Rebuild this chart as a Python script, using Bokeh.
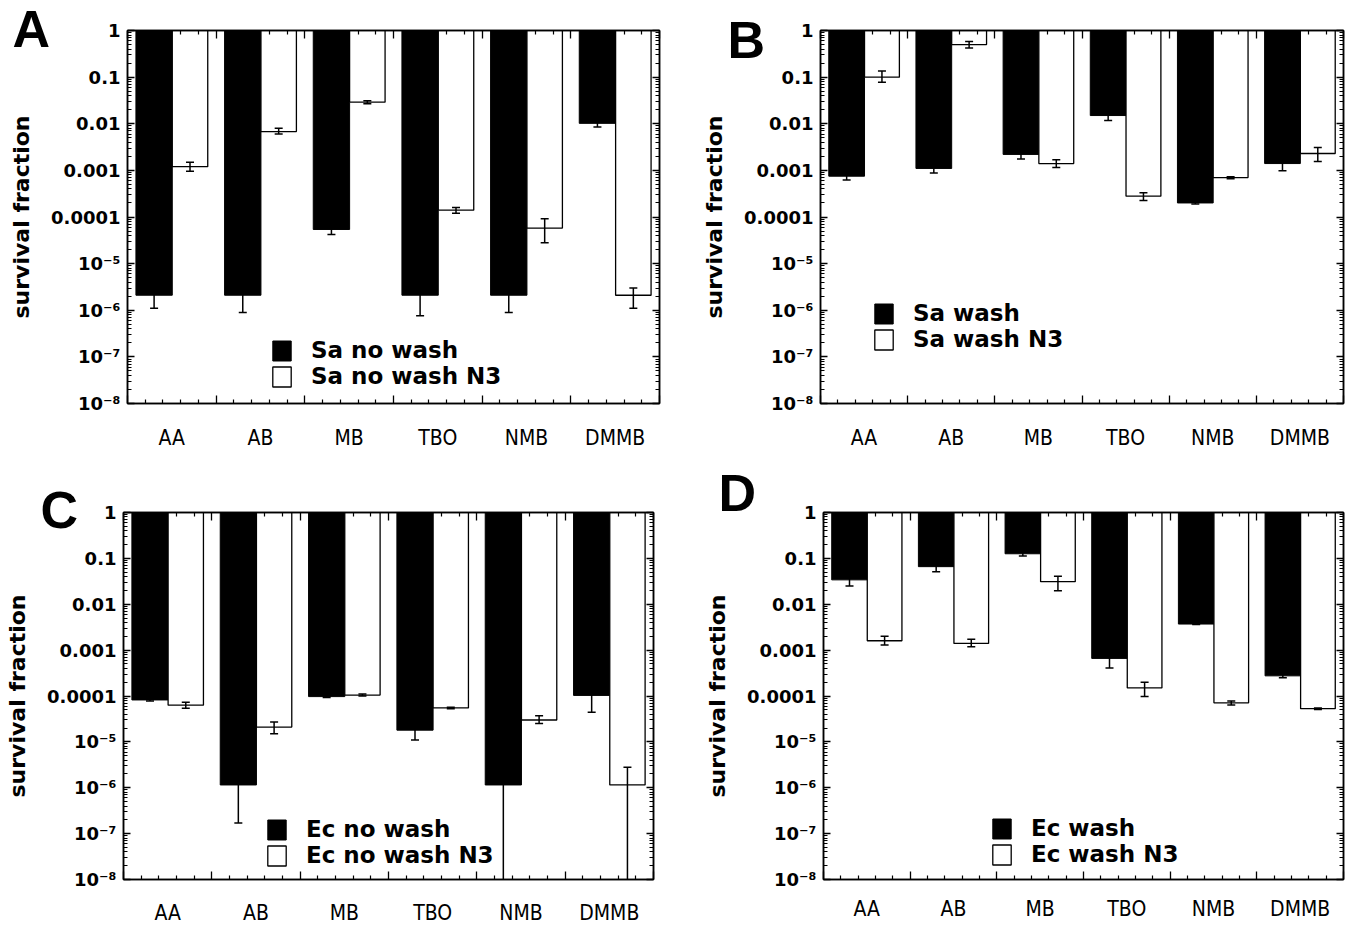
from bokeh.plotting import figure
from bokeh.models import (Range1d, FixedTicker, LinearAxis, LogAxis, Legend, LegendItem,
                          Title, CustomJSTickFormatter)
from bokeh.layouts import column, row
from bokeh.embed import file_html
from bokeh.resources import INLINE

categories = ["AA", "AB", "MB", "TBO", "NMB", "DMMB"]

y_tick_values = [1, 0.1, 0.01, 0.001, 0.0001, 1e-5, 1e-6, 1e-7, 1e-8]
y_tick_labels = ["1", "0.1", "0.01", "0.001", "0.0001", "10\u207b\u2075", "10\u207b\u2076", "10\u207b\u2077", "10\u207b\u2078"]

# Panel A : Sa no wash
a_names = ["Sa no wash", "Sa no wash N3"]
a_black = [2.1e-6, 2.1e-6, 5.4e-5, 2.1e-6, 2.1e-6, 0.0102]
a_black_lo = [1.1e-6, 8.9e-7, 4.2e-5, 7.6e-7, 8.9e-7, 0.0085]
a_black_hi = [3.1e-6, 3.3e-6, 6.6e-5, 3.4e-6, 3.3e-6, 0.0119]
a_white = [0.0012, 0.0068, 0.029, 1.4e-4, 5.8e-5, 2.1e-6]
a_white_lo = [0.00096, 0.0060, 0.027, 1.2e-4, 2.8e-5, 1.1e-6]
a_white_hi = [0.0015, 0.0080, 0.031, 1.6e-4, 9.2e-5, 3.0e-6]

# Panel B : Sa wash
b_names = ["Sa wash", "Sa wash N3"]
b_black = [7.5e-4, 0.0011, 0.0022, 0.015, 2.0e-4, 0.0014]
b_black_lo = [6.2e-4, 8.8e-4, 0.00175, 0.0118, 1.9e-4, 9.8e-4]
b_black_hi = [9.0e-4, 0.0013, 0.0026, 0.018, 2.1e-4, 0.0020]
b_white = [0.10, 0.50, 0.0014, 2.8e-4, 7.0e-4, 0.0023]
b_white_lo = [0.078, 0.42, 0.00115, 2.25e-4, 6.6e-4, 0.00155]
b_white_hi = [0.135, 0.58, 0.0017, 3.3e-4, 7.3e-4, 0.0031]

# Panel C : Ec no wash
c_names = ["Ec no wash", "Ec no wash N3"]
c_black = [8.2e-5, 1.15e-6, 9.7e-5, 1.8e-5, 1.15e-6, 1.03e-4]
c_black_lo = [7.8e-5, 1.7e-7, 9.3e-5, 1.1e-5, 1e-9, 4.4e-5]
c_black_hi = [8.6e-5, 2.0e-6, 1.0e-4, 2.5e-5, 2.0e-6, 1.6e-4]
c_white = [6.3e-5, 2.1e-5, 1.05e-4, 5.5e-5, 3.0e-5, 1.15e-6]
c_white_lo = [5.4e-5, 1.5e-5, 1.0e-4, 5.3e-5, 2.5e-5, 1e-9]
c_white_hi = [7.3e-5, 2.7e-5, 1.1e-4, 5.7e-5, 3.7e-5, 2.8e-6]

# Panel D : Ec wash
d_names = ["Ec wash", "Ec wash N3"]
d_black = [0.034, 0.066, 0.126, 6.6e-4, 0.0037, 2.75e-4]
d_black_lo = [0.025, 0.051, 0.112, 4.1e-4, 0.0036, 2.5e-4]
d_black_hi = [0.045, 0.080, 0.140, 9.0e-4, 0.0038, 3.0e-4]
d_white = [0.0016, 0.0014, 0.031, 1.5e-4, 7.1e-5, 5.3e-5]
d_white_lo = [0.0013, 0.00118, 0.0198, 9.8e-5, 6.4e-5, 5.1e-5]
d_white_hi = [0.0020, 0.00172, 0.041, 2.0e-4, 7.8e-5, 5.5e-5]

TICK_FONT = "DejaVu Sans"
CAT_FONT = "'Liberation Sans Narrow', 'DejaVu Sans Condensed', 'Liberation Sans', sans-serif"


def make_panel(letter, names, black, black_lo, black_hi, white, white_lo, white_hi,
               W, H, bl, br, bt, bb, leg_xy, letter_off, letter_standoff, letter_valign, cat_standoff):
    n = len(categories)
    p = figure(width=W, height=H, x_range=Range1d(0, n), y_range=Range1d(1e-8, 1),
               y_axis_type="log", output_backend="svg", toolbar_location=None,
               min_border_left=bl, min_border_right=br, min_border_top=bt, min_border_bottom=bb)
    p.xgrid.visible = False
    p.ygrid.visible = False
    p.outline_line_color = "black"
    p.outline_line_width = 1.5
    p.background_fill_color = "white"
    p.border_fill_color = "white"

    xb = [i + 0.30 for i in range(n)]
    xw = [i + 0.705 for i in range(n)]

    rb = p.vbar(x=xb, width=0.41, top=1, bottom=black, fill_color="black", line_color="black", line_width=1)
    rw = p.vbar(x=xw, width=0.40, top=1, bottom=white, fill_color="white", line_color="black", line_width=1.3)

    for xs, lo, hi in ((xb, black_lo, black_hi), (xw, white_lo, white_hi)):
        p.segment(x0=xs, y0=lo, x1=xs, y1=hi, line_color="black", line_width=1.5)
        p.dash(x=xs, y=lo, size=8, line_color="black", line_width=1.5)
        p.dash(x=xs, y=hi, size=8, line_color="black", line_width=1.5)

    # y ticks
    y_minor = [k * v for v in y_tick_values[1:] for k in range(2, 10)]
    yt = FixedTicker(ticks=y_tick_values, minor_ticks=y_minor)
    yax = p.yaxis[0]
    yax.ticker = yt
    yax.formatter = CustomJSTickFormatter(args=dict(labels=y_tick_labels),
                                          code="const e = Math.round(-Math.log10(tick)); return labels[e];")
    yax.major_tick_in = 7
    yax.major_tick_out = 0
    yax.minor_tick_in = 4
    yax.minor_tick_out = 0
    yax.axis_line_width = 1.5
    yax.major_tick_line_width = 1.3
    yax.minor_tick_line_width = 1
    yax.major_label_text_font = TICK_FONT
    yax.major_label_text_font_style = "bold"
    yax.major_label_text_font_size = "18px"
    yax.major_label_text_color = "black"
    yax.major_label_standoff = 7
    yax.axis_label = "survival fraction"
    yax.axis_label_text_font = TICK_FONT
    yax.axis_label_text_font_style = "bold"
    yax.axis_label_text_font_size = "22px"
    yax.axis_label_text_color = "black"
    yax.axis_label_standoff = 14

    rax = LogAxis(ticker=yt, formatter=CustomJSTickFormatter(code="return '';"),
                  major_tick_in=7, major_tick_out=0, minor_tick_in=4, minor_tick_out=0,
                  axis_line_width=1.5, major_tick_line_width=1.3, minor_tick_line_width=1,
                  major_label_text_font_size="0px", major_label_standoff=0)
    p.add_layout(rax, "right")

    # x ticks
    x_minor = [i + j * 0.2 for i in range(n) for j in range(1, 5)]
    xt = FixedTicker(ticks=list(range(n + 1)), minor_ticks=x_minor)
    xax = p.xaxis[0]
    xax.ticker = xt
    xax.formatter = CustomJSTickFormatter(code="return '';")
    xax.major_tick_in = 8
    xax.major_tick_out = 0
    xax.minor_tick_in = 4
    xax.minor_tick_out = 0
    xax.axis_line_width = 1.5
    xax.major_tick_line_width = 1.3
    xax.minor_tick_line_width = 1.2
    xax.major_label_text_font_size = "0px"
    xax.major_label_standoff = 0

    tax = LinearAxis(ticker=xt, formatter=CustomJSTickFormatter(code="return '';"),
                     major_tick_in=8, major_tick_out=0, minor_tick_in=4, minor_tick_out=0,
                     axis_line_width=1.5, major_tick_line_width=1.3, minor_tick_line_width=1.2,
                     major_label_text_font_size="0px", major_label_standoff=0)
    p.add_layout(tax, "above")

    centers = [i + 0.5 for i in range(n)]
    lax = LinearAxis(ticker=FixedTicker(ticks=centers),
                     formatter=CustomJSTickFormatter(args=dict(cats=categories),
                                                     code="return cats[Math.floor(tick)];"),
                     axis_line_color=None, major_tick_line_color=None, minor_tick_line_color=None,
                     major_tick_in=0, major_tick_out=0, minor_tick_in=0, minor_tick_out=0,
                     major_label_standoff=cat_standoff,
                     major_label_text_font=CAT_FONT, major_label_text_font_size="21px",
                     major_label_text_color="black")
    p.add_layout(lax, "below")

    leg = Legend(items=[LegendItem(label=names[0], renderers=[rb]),
                        LegendItem(label=names[1], renderers=[rw])],
                 location=leg_xy, orientation="vertical",
                 glyph_width=23, glyph_height=25, label_height=25, label_width=10,
                 spacing=0, padding=0, margin=0, label_standoff=18,
                 border_line_color=None, background_fill_alpha=0,
                 label_text_font=TICK_FONT, label_text_font_style="bold",
                 label_text_font_size="23px", label_text_color="black")
    p.add_layout(leg)

    # panel letter as a title in the (otherwise empty) top border
    p.add_layout(Title(text=letter, align="left", vertical_align=letter_valign, offset=letter_off,
                       standoff=letter_standoff, text_font="Liberation Sans",
                       text_font_style="bold", text_font_size="52px", text_color="black"), "above")
    return p


# page origin is (0, 0); panels: A (0,0) B (690,0) C (0,456) D (690,456)
pA = make_panel("A", a_names, a_black, a_black_lo, a_black_hi, a_white, a_white_lo, a_white_hi,
                690, 456, 127, 31, 30, 52, (143, 14), -115, -59, "top", 22)
pB = make_panel("B", b_names, b_black, b_black_lo, b_black_hi, b_white, b_white_lo, b_white_hi,
                655, 456, 130, 2, 29, 53, (52, 51), -93, -77, "bottom", 22)
pC = make_panel("C", c_names, c_black, c_black_lo, c_black_hi, c_white, c_white_lo, c_white_hi,
                690, 473, 123, 37, 51, 50, (142, 11), -83, -57, "top", 21)
pD = make_panel("D", d_names, d_black, d_black_lo, d_black_hi, d_white, d_white_lo, d_white_hi,
                655, 473, 133, 2, 56, 45, (167, 12), -105, -23, "top", 17)

layout = column(row(pA, pB), row(pC, pD))
open("out.html", "w").write(file_html(layout, INLINE))
